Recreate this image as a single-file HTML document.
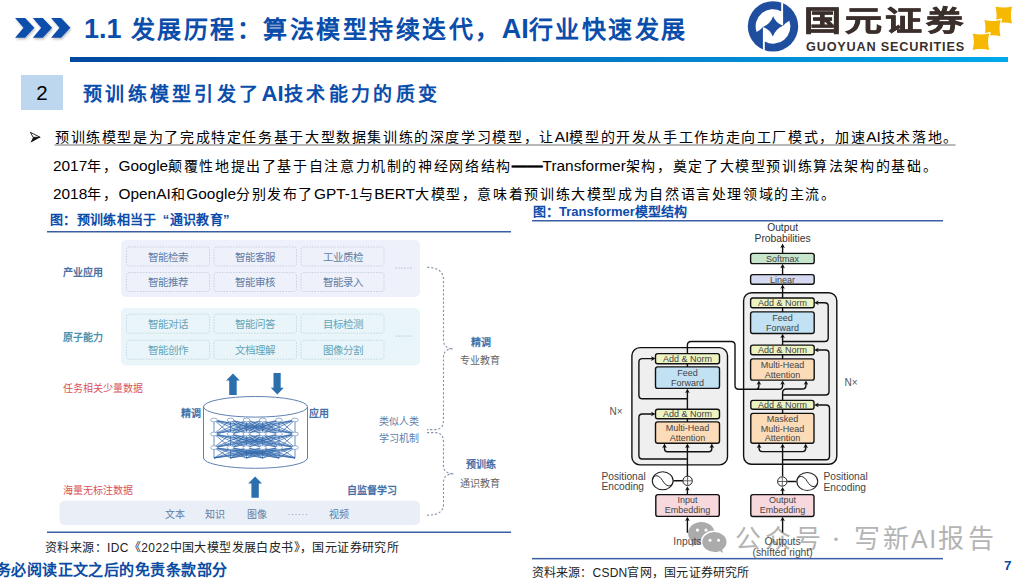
<!DOCTYPE html>
<html lang="zh-CN">
<head>
<meta charset="utf-8">
<style>
html,body{margin:0;padding:0;}
body{width:1026px;height:580px;position:relative;overflow:hidden;background:#fff;font-family:"Liberation Sans",sans-serif;color:#000;}
.a{position:absolute;white-space:nowrap;}
svg{position:absolute;left:0;top:0;}
.title{left:84px;top:12.5px;font-size:24px;line-height:32px;font-weight:bold;color:#0b4dab;letter-spacing:2.5px;}
.title .n{font-size:27px;letter-spacing:0;}
.sec{left:83px;top:81px;font-size:19px;line-height:26px;font-weight:bold;color:#0b4dab;letter-spacing:3.3px;}
.sec .l{font-size:22px;letter-spacing:0.3px;}
.body{font-size:14px;line-height:20px;color:#000;letter-spacing:1.62px;}
.body .l{font-size:15.4px;letter-spacing:0;}
.cap{font-size:13px;line-height:16px;font-weight:bold;color:#0b4cab;}
.wm{top:522px;font-size:26px;line-height:34px;color:#b4b4b4;}
.src{font-size:12px;line-height:16px;color:#222;letter-spacing:0.3px;}
</style>
</head>
<body>
<!-- header graphics -->
<svg width="1026" height="580" viewBox="0 0 1026 580">
  <defs>
    <linearGradient id="hg" x1="0" x2="1" y1="0" y2="0">
      <stop offset="0" stop-color="#0048a0"/>
      <stop offset="0.35" stop-color="#0062b4"/>
      <stop offset="1" stop-color="#00aaea"/>
    </linearGradient>
    <filter id="sh" x="-20%" y="-20%" width="140%" height="160%"><feDropShadow dx="0.8" dy="1.5" stdDeviation="1.1" flood-color="#000" flood-opacity="0.28"/></filter>
  </defs>
  <!-- chevrons -->
  <g fill="#0b4dab" filter="url(#sh)">
    <polygon points="15.1,18.1 25.1,18.1 34.4,27.8 25.1,37.7 15.1,37.7 23.5,27.8"/>
    <polygon points="32.8,18.1 42.8,18.1 52.1,27.8 42.8,37.7 32.8,37.7 41.2,27.8"/>
    <polygon points="51.1,18.1 61.1,18.1 70.4,27.8 61.1,37.7 51.1,37.7 59.5,27.8"/>
  </g>
  <rect x="70" y="57" width="938" height="5" fill="url(#hg)"/>
  <!-- logo -->
  <g transform="translate(773,26.4)">
    <circle r="25.2" fill="#1f4e9f"/>
    <path fill="#fff" d="M8.2,-27 L10.1,-27 L10.1,-0.7 Q2.8,-3.2 0.2,-10.2 Q-2.7,-2.5 -10.1,0.6 Q-12.5,3.6 -16.4,5.6 A17.2,17.2 0 0 1 8.2,-15.1 Z"/>
    <path fill="#fff" d="M8.2,-27 L10.1,-27 L10.1,-0.7 Q2.8,-3.2 0.2,-10.2 Q-2.7,-2.5 -10.1,0.6 Q-12.5,3.6 -16.4,5.6 A17.2,17.2 0 0 1 8.2,-15.1 Z" transform="rotate(180)"/>
  </g>
  <!-- gold diamonds -->
  <g fill="#f6b800" stroke="#fff" stroke-width="1.2">
    <path d="M994.7,5.7 Q1003.8,8.3 1012.8,5.7 Q1010.2,15.0 1012.8,24.3 Q1003.8,21.7 994.7,24.3 Q997.3,15.0 994.7,5.7Z"/>
    <path d="M983.6,19.1 Q992.5,21.7 1001.4,19.1 Q998.8,28.2 1001.4,37.2 Q992.5,34.6 983.6,37.2 Q986.2,28.2 983.6,19.1Z"/>
    <path d="M971.9,32.6 Q981.0,35.2 990,32.6 Q987.4,41.8 990,50.9 Q981.0,48.3 971.9,50.9 Q974.5,41.8 971.9,32.6Z"/>
  </g>
  <!-- section box -->
  <rect x="21" y="75" width="42" height="35" fill="#bdd7ee"/>
  <!-- bullet -->
  <polygon points="30.4,132.3 40.2,137.3 33.1,137.3" fill="#fff" stroke="#111" stroke-width="0.9" stroke-linejoin="miter"/>
  <polygon points="33.1,137.3 40.4,137.3 30.5,142.7" fill="#111"/>
  <!-- bullet underline -->
  <rect x="54.5" y="144.3" width="901" height="1.4" fill="#9a9a9a"/>
  <!-- caption lines -->
  <rect x="47" y="231" width="464" height="1.5" fill="#3a5ea6"/>
  <rect x="47" y="531.5" width="464" height="1.5" fill="#3a5ea6"/>
  <rect x="532" y="220" width="411" height="1.5" fill="#3a5ea6"/>
  <rect x="532" y="557.9" width="411" height="1.5" fill="#3a5ea6"/>
</svg>

<!-- LEFT DIAGRAM -->
<svg width="1026" height="580" viewBox="0 0 1026 580" style="font-family:'Liberation Sans',sans-serif">
  <rect x="121" y="240" width="299" height="57" rx="5" fill="#eef1f9"/>
  <rect x="121" y="308" width="299" height="57.5" rx="5" fill="#e9f5f8"/>
  <rect x="59.5" y="500.7" width="360.5" height="24.3" rx="5" fill="#e9eef7"/>
  <g fill="none" stroke="#bfc8d8" stroke-width="0.8" stroke-dasharray="1.5 1.3">
    <rect x="126.5" y="247" width="83" height="19" rx="2.5"/>
    <rect x="214" y="247" width="82.5" height="19" rx="2.5"/>
    <rect x="301" y="247" width="83" height="19" rx="2.5"/>
    <rect x="126.5" y="272.5" width="83" height="19" rx="2.5"/>
    <rect x="214" y="272.5" width="82.5" height="19" rx="2.5"/>
    <rect x="301" y="272.5" width="83" height="19" rx="2.5"/>
  </g>
  <g fill="none" stroke="#bad3dc" stroke-width="0.8" stroke-dasharray="1.5 1.3">
    <rect x="126.5" y="314.2" width="83" height="19" rx="2.5"/>
    <rect x="214" y="314.2" width="82.5" height="19" rx="2.5"/>
    <rect x="301" y="314.2" width="83" height="19" rx="2.5"/>
    <rect x="126.5" y="340.2" width="83" height="19" rx="2.5"/>
    <rect x="214" y="340.2" width="82.5" height="19" rx="2.5"/>
    <rect x="301" y="340.2" width="83" height="19" rx="2.5"/>
  </g>
  <g font-size="10.5" text-anchor="middle" fill="#5f7ca6">
    <text x="168" y="260.5">智能检索</text><text x="255.2" y="260.5">智能客服</text><text x="342.5" y="260.5">工业质检</text>
    <text x="168" y="286">智能推荐</text><text x="255.2" y="286">智能审核</text><text x="342.5" y="286">智能录入</text>
  </g>
  <g font-size="10.5" text-anchor="middle" fill="#63a4b9">
    <text x="168" y="327.7">智能对话</text><text x="255.2" y="327.7">智能问答</text><text x="342.5" y="327.7">目标检测</text>
    <text x="168" y="353.7">智能创作</text><text x="255.2" y="353.7">文档理解</text><text x="342.5" y="353.7">图像分割</text>
  </g>
  <g fill="#8aa0c0"><circle cx="396" cy="268" r="0.6"/><circle cx="399" cy="268" r="0.6"/><circle cx="402" cy="268" r="0.6"/><circle cx="405" cy="268" r="0.6"/><circle cx="408" cy="268" r="0.6"/><circle cx="411" cy="268" r="0.6"/></g>
  <g fill="#7fb0c0"><circle cx="396" cy="336" r="0.6"/><circle cx="399" cy="336" r="0.6"/><circle cx="402" cy="336" r="0.6"/><circle cx="405" cy="336" r="0.6"/><circle cx="408" cy="336" r="0.6"/><circle cx="411" cy="336" r="0.6"/></g>
  <g fill="#8aa0c0"><circle cx="289" cy="514.5" r="0.6"/><circle cx="292.5" cy="514.5" r="0.6"/><circle cx="296" cy="514.5" r="0.6"/><circle cx="299.5" cy="514.5" r="0.6"/><circle cx="303" cy="514.5" r="0.6"/><circle cx="306.5" cy="514.5" r="0.6"/></g>
  <!-- labels -->
  <g font-size="10" font-weight="bold">
    <text x="62.5" y="275.5" fill="#4d71a0">产业应用</text>
    <text x="62.5" y="340.5" fill="#4a93ab">原子能力</text>
    <text x="181" y="417.3" fill="#4571a8">精调</text>
    <text x="308.5" y="417.3" fill="#4571a8">应用</text>
    <text x="346.5" y="493.8" fill="#4571a8">自监督学习</text>
    <text x="470.5" y="345.5" fill="#4571a8">精调</text>
    <text x="466" y="468" fill="#4571a8">预训练</text>
  </g>
  <g font-size="10" fill="#d9535a">
    <text x="62.5" y="392">任务相关少量数据</text>
    <text x="62.5" y="493.5">海量无标注数据</text>
  </g>
  <g font-size="10" fill="#5f7ca6">
    <text x="164.5" y="518">文本</text><text x="205" y="518">知识</text><text x="246.5" y="518">图像</text><text x="329" y="518">视频</text>
    <text x="378.5" y="425">类似人类</text><text x="378.5" y="442">学习机制</text>
  </g>
  <g font-size="10" fill="#666">
    <text x="460" y="363.5">专业教育</text>
    <text x="459.5" y="487">通识教育</text>
  </g>
  <!-- arrows -->
  <g fill="#2c6fad">
    <polygon points="233,373.5 239.8,380.6 236.7,380.6 236.7,394.9 229.2,394.9 229.2,380.6 226.1,380.6"/>
    <polygon points="273.5,373.1 280.7,373.1 280.7,387.8 283.8,387.8 277.3,394.6 270.8,387.8 273.5,387.8"/>
    <polygon points="255.1,476.4 262,483.5 258.8,483.5 258.8,497.8 251.4,497.8 251.4,483.5 248.2,483.5"/>
  </g>
  <!-- cylinder -->
  <g fill="none" stroke="#5f82b2" stroke-width="1">
    <ellipse cx="255.5" cy="406.8" rx="52" ry="10.3"/>
    <path d="M203.5,406.8 L203.5,458 A52,10.3 0 0 0 307.5,458 L307.5,406.8"/>
  </g>
  <path d="M214,420L214,434M214,420L230.5,434M214,420L246.6,434M214,420L262.7,434M214,420L279,434M214,420L295,434M230.5,420L214,434M230.5,420L230.5,434M230.5,420L246.6,434M230.5,420L262.7,434M230.5,420L279,434M230.5,420L295,434M246.6,420L214,434M246.6,420L230.5,434M246.6,420L246.6,434M246.6,420L262.7,434M246.6,420L279,434M246.6,420L295,434M262.7,420L214,434M262.7,420L230.5,434M262.7,420L246.6,434M262.7,420L262.7,434M262.7,420L279,434M262.7,420L295,434M279,420L214,434M279,420L230.5,434M279,420L246.6,434M279,420L262.7,434M279,420L279,434M279,420L295,434M295,420L214,434M295,420L230.5,434M295,420L246.6,434M295,420L262.7,434M295,420L279,434M295,420L295,434M214,434L214,447.6M214,434L230.5,447.6M214,434L246.6,447.6M214,434L262.7,447.6M214,434L279,447.6M214,434L295,447.6M230.5,434L214,447.6M230.5,434L230.5,447.6M230.5,434L246.6,447.6M230.5,434L262.7,447.6M230.5,434L279,447.6M230.5,434L295,447.6M246.6,434L214,447.6M246.6,434L230.5,447.6M246.6,434L246.6,447.6M246.6,434L262.7,447.6M246.6,434L279,447.6M246.6,434L295,447.6M262.7,434L214,447.6M262.7,434L230.5,447.6M262.7,434L246.6,447.6M262.7,434L262.7,447.6M262.7,434L279,447.6M262.7,434L295,447.6M279,434L214,447.6M279,434L230.5,447.6M279,434L246.6,447.6M279,434L262.7,447.6M279,434L279,447.6M279,434L295,447.6M295,434L214,447.6M295,434L230.5,447.6M295,434L246.6,447.6M295,434L262.7,447.6M295,434L279,447.6M295,434L295,447.6M214,447.6L214,458M214,447.6L230.5,458M214,447.6L246.6,458M214,447.6L262.7,458M214,447.6L279,458M214,447.6L295,458M230.5,447.6L214,458M230.5,447.6L230.5,458M230.5,447.6L246.6,458M230.5,447.6L262.7,458M230.5,447.6L279,458M230.5,447.6L295,458M246.6,447.6L214,458M246.6,447.6L230.5,458M246.6,447.6L246.6,458M246.6,447.6L262.7,458M246.6,447.6L279,458M246.6,447.6L295,458M262.7,447.6L214,458M262.7,447.6L230.5,458M262.7,447.6L246.6,458M262.7,447.6L262.7,458M262.7,447.6L279,458M262.7,447.6L295,458M279,447.6L214,458M279,447.6L230.5,458M279,447.6L246.6,458M279,447.6L262.7,458M279,447.6L279,458M279,447.6L295,458M295,447.6L214,458M295,447.6L230.5,458M295,447.6L246.6,458M295,447.6L262.7,458M295,447.6L279,458M295,447.6L295,458" stroke="#2d66ab" stroke-width="0.75" stroke-opacity="0.95" fill="none"/>
  <g fill="#fff" stroke="#6a8fbf" stroke-width="0.7"><ellipse cx="214" cy="420" rx="3.4" ry="1.9"/><ellipse cx="230.5" cy="420" rx="3.4" ry="1.9"/><ellipse cx="246.6" cy="420" rx="3.4" ry="1.9"/><ellipse cx="262.7" cy="420" rx="3.4" ry="1.9"/><ellipse cx="279" cy="420" rx="3.4" ry="1.9"/><ellipse cx="295" cy="420" rx="3.4" ry="1.9"/><ellipse cx="214" cy="434" rx="3.4" ry="1.9"/><ellipse cx="230.5" cy="434" rx="3.4" ry="1.9"/><ellipse cx="246.6" cy="434" rx="3.4" ry="1.9"/><ellipse cx="262.7" cy="434" rx="3.4" ry="1.9"/><ellipse cx="279" cy="434" rx="3.4" ry="1.9"/><ellipse cx="295" cy="434" rx="3.4" ry="1.9"/><ellipse cx="214" cy="447.6" rx="3.4" ry="1.9"/><ellipse cx="230.5" cy="447.6" rx="3.4" ry="1.9"/><ellipse cx="246.6" cy="447.6" rx="3.4" ry="1.9"/><ellipse cx="262.7" cy="447.6" rx="3.4" ry="1.9"/><ellipse cx="279" cy="447.6" rx="3.4" ry="1.9"/><ellipse cx="295" cy="447.6" rx="3.4" ry="1.9"/></g>
  <!-- braces -->
  <g fill="none" stroke="#8692a8" stroke-width="1.1" stroke-dasharray="2.2 1.9">
    <path d="M427,267.3 Q443.5,267.5 443.5,280 L443.5,340 Q443.5,348.5 453,348.7 Q443.5,349 443.5,357 L443.5,420 Q443.5,429.6 435,429.6 L427,429.6"/>
    <path d="M427,432.6 L435,432.6 Q443.5,432.6 443.5,442 L443.5,466 Q443.5,473.5 454,473.8 Q443.5,474 443.5,482 L443.5,504 Q443.5,515.2 427,515.2"/>
  </g>
</svg>

<!-- WATERMARK -->
<svg width="1026" height="580" viewBox="0 0 1026 580">
  <path d="M701.4,522 C709,522 714.7,527 714.7,533.3 C714.7,539.6 709,544.6 701.4,544.6 C699.5,544.6 697.8,544.3 696.2,543.8 L691.5,547.3 L692.6,542.2 C689.8,540 688.1,536.8 688.1,533.3 C688.1,527 693.8,522 701.4,522Z" fill="#ababab"/>
  <path d="M714.4,531.2 C721.5,531.2 727.3,536 727.3,542 C727.3,545.2 725.7,548 723.1,550 L724.4,554.8 L719.8,552 C718.1,552.6 716.3,552.9 714.4,552.9 C707.3,552.9 701.5,548 701.5,542 C701.5,536 707.3,531.2 714.4,531.2Z" fill="#ababab" stroke="#fff" stroke-width="1.6"/>
  <circle cx="836" cy="539.2" r="1.8" fill="#b4b4b4"/>
  <g fill="#fff"><circle cx="697.5" cy="530.1" r="1.6"/><circle cx="706" cy="530.1" r="1.6"/><circle cx="710" cy="540.3" r="1.5"/><circle cx="718.5" cy="540.3" r="1.5"/></g>
</svg>
<div class="a wm" style="left:734.5px;letter-spacing:4px;">公众号</div>
<div class="a wm" style="left:854px;letter-spacing:2.5px;">写新</div>
<div class="a wm" style="left:911px;font-size:25px;letter-spacing:1.5px;">AI</div>
<div class="a wm" style="left:938px;letter-spacing:4px;">报告</div>

<!-- TRANSFORMER -->
<svg width="1026" height="580" viewBox="0 0 1026 580" style="font-family:'Liberation Sans',sans-serif">
<rect x="631.9" y="347.6" width="95.6" height="117.3" rx="8" fill="#efefef" stroke="#111" stroke-width="1.4"/>
<rect x="743.6" y="292.7" width="93.2" height="171.6" rx="8" fill="#efefef" stroke="#111" stroke-width="1.4"/>
<rect x="655.5" y="353.6" width="64.0" height="10.1" rx="2.2" fill="#eef3c2" stroke="#111" stroke-width="1.4"/>
<rect x="655.5" y="366.9" width="64.0" height="21.5" rx="2.2" fill="#c2e2f3" stroke="#111" stroke-width="1.4"/>
<rect x="655.5" y="409.3" width="64.0" height="9.4" rx="2.2" fill="#eef3c2" stroke="#111" stroke-width="1.4"/>
<rect x="655.5" y="421.9" width="64.0" height="21.3" rx="2.2" fill="#fbdbb8" stroke="#111" stroke-width="1.4"/>
<rect x="655.8" y="494.6" width="63.5" height="21.8" rx="2.2" fill="#f7d8dd" stroke="#111" stroke-width="1.4"/>
<rect x="750.6" y="253.4" width="63.6" height="10.2" rx="2.2" fill="#c6e5cb" stroke="#111" stroke-width="1.4"/>
<rect x="750.6" y="274.6" width="63.6" height="9.6" rx="2.2" fill="#d6daf0" stroke="#111" stroke-width="1.4"/>
<rect x="750.6" y="298.0" width="63.6" height="9.7" rx="2.2" fill="#eef3c2" stroke="#111" stroke-width="1.4"/>
<rect x="750.6" y="311.9" width="63.6" height="21.6" rx="2.2" fill="#c2e2f3" stroke="#111" stroke-width="1.4"/>
<rect x="750.6" y="345.1" width="63.6" height="9.6" rx="2.2" fill="#eef3c2" stroke="#111" stroke-width="1.4"/>
<rect x="750.6" y="358.9" width="63.6" height="21.2" rx="2.2" fill="#fbdbb8" stroke="#111" stroke-width="1.4"/>
<rect x="750.8" y="400.4" width="63.2" height="8.9" rx="2.2" fill="#eef3c2" stroke="#111" stroke-width="1.4"/>
<rect x="750.8" y="413.4" width="63.2" height="29.9" rx="2.2" fill="#fbdbb8" stroke="#111" stroke-width="1.4"/>
<rect x="750.8" y="494.6" width="63.2" height="21.9" rx="2.2" fill="#f7d8dd" stroke="#111" stroke-width="1.4"/>
<path d="M687.4,494.6 L687.4,489 M687.4,476.2 L687.4,446.5 M664.5,446.5 L664.5,448.8 Q664.5,451.8 667.5,451.8 L708.8,451.8 Q711.8,451.8 711.8,448.8 L711.8,446.5 M687.4,459 L642.4,459 Q638.9,459 638.9,455.5 L638.9,417.5 Q638.9,414 642.4,414 L652.5,414 M687.4,421.9 L687.4,418.7 M687.4,409.3 L687.4,391.5 M687.4,398.8 L642.4,398.8 Q638.9,398.8 638.9,395.3 L638.9,362.1 Q638.9,358.6 642.4,358.6 L652.5,358.6 M687.4,366.9 L687.4,363.7 M687.4,353.6 L687.4,345.3 Q687.4,341.5 691.2,341.5 L731.2,341.5 Q735,341.5 735,345.3 L735,385.6 Q735,389.3 738.8,389.3 L755.4,389.3 Q758.9,389.3 758.9,385.8 L758.9,383.4 M755,389.3 L779,389.3 Q782.6,389.3 782.6,385.8 L782.6,383.4 M782.6,494.6 L782.6,489 M782.6,476.2 L782.6,446.6 M759.1,446.6 L759.1,448.6 Q759.1,451.6 762.1,451.6 L802.7,451.6 Q805.7,451.6 805.7,448.6 L805.7,446.6 M782.6,459.7 L826,459.7 Q829.5,459.7 829.5,456.2 L829.5,408.5 Q829.5,405 826,405 L817.2,405 M782.6,413.4 L782.6,409.3 M782.6,400.4 L782.6,392.8 Q782.6,389 786.4,389 L802.2,389 Q806,389 806,385.2 L806,383.4 M782.6,395 L825.5,395 Q829,395 829,391.5 L829,353.5 Q829,350 825.5,350 L817.4,350 M782.6,358.9 L782.6,354.7 M782.6,345.1 L782.6,336.6 M782.6,341.5 L824.7,341.5 Q828.2,341.5 828.2,338 L828.2,306.3 Q828.2,302.8 824.7,302.8 L817.4,302.8 M782.6,311.9 L782.6,307.7 M782.6,298 L782.6,287.3 M782.6,274.6 L782.6,266.7 M782.6,253.4 L782.6,247 M782.6,532.5 L782.6,519.6 M687.4,532.8 L687.4,519.6 M673.3,480.8 L682.9,480.8 M787.3,481.5 L796.5,481.5" fill="none" stroke="#111" stroke-width="1.4"/>
<path d="M0,0 L2.3,4.4 L0,3.4 L-2.3,4.4Z" fill="#111" transform="translate(687.4,486.2) rotate(0)"/>
<path d="M0,0 L2.3,4.4 L0,3.4 L-2.3,4.4Z" fill="#111" transform="translate(687.4,443.6) rotate(0)"/>
<path d="M0,0 L2.3,4.4 L0,3.4 L-2.3,4.4Z" fill="#111" transform="translate(664.5,443.6) rotate(0)"/>
<path d="M0,0 L2.3,4.4 L0,3.4 L-2.3,4.4Z" fill="#111" transform="translate(711.8,443.6) rotate(0)"/>
<path d="M0,0 L2.3,4.4 L0,3.4 L-2.3,4.4Z" fill="#111" transform="translate(655.5,414) rotate(90)"/>
<path d="M0,0 L2.3,4.4 L0,3.4 L-2.3,4.4Z" fill="#111" transform="translate(687.4,388.7) rotate(0)"/>
<path d="M0,0 L2.3,4.4 L0,3.4 L-2.3,4.4Z" fill="#111" transform="translate(655.5,358.6) rotate(90)"/>
<path d="M0,0 L2.3,4.4 L0,3.4 L-2.3,4.4Z" fill="#111" transform="translate(758.9,380.4) rotate(0)"/>
<path d="M0,0 L2.3,4.4 L0,3.4 L-2.3,4.4Z" fill="#111" transform="translate(782.6,380.4) rotate(0)"/>
<path d="M0,0 L2.3,4.4 L0,3.4 L-2.3,4.4Z" fill="#111" transform="translate(782.6,486.9) rotate(0)"/>
<path d="M0,0 L2.3,4.4 L0,3.4 L-2.3,4.4Z" fill="#111" transform="translate(782.6,443.6) rotate(0)"/>
<path d="M0,0 L2.3,4.4 L0,3.4 L-2.3,4.4Z" fill="#111" transform="translate(759.1,443.6) rotate(0)"/>
<path d="M0,0 L2.3,4.4 L0,3.4 L-2.3,4.4Z" fill="#111" transform="translate(805.7,443.6) rotate(0)"/>
<path d="M0,0 L2.3,4.4 L0,3.4 L-2.3,4.4Z" fill="#111" transform="translate(814.2,405) rotate(-90)"/>
<path d="M0,0 L2.3,4.4 L0,3.4 L-2.3,4.4Z" fill="#111" transform="translate(806,380.4) rotate(0)"/>
<path d="M0,0 L2.3,4.4 L0,3.4 L-2.3,4.4Z" fill="#111" transform="translate(814.2,350) rotate(-90)"/>
<path d="M0,0 L2.3,4.4 L0,3.4 L-2.3,4.4Z" fill="#111" transform="translate(782.6,333.7) rotate(0)"/>
<path d="M0,0 L2.3,4.4 L0,3.4 L-2.3,4.4Z" fill="#111" transform="translate(814.2,302.8) rotate(-90)"/>
<path d="M0,0 L2.3,4.4 L0,3.4 L-2.3,4.4Z" fill="#111" transform="translate(782.6,284.4) rotate(0)"/>
<path d="M0,0 L2.3,4.4 L0,3.4 L-2.3,4.4Z" fill="#111" transform="translate(782.6,263.8) rotate(0)"/>
<path d="M0,0 L2.3,4.4 L0,3.4 L-2.3,4.4Z" fill="#111" transform="translate(782.6,243.6) rotate(0)"/>
<path d="M0,0 L2.3,4.4 L0,3.4 L-2.3,4.4Z" fill="#111" transform="translate(782.6,516.7) rotate(0)"/>
<path d="M0,0 L2.3,4.4 L0,3.4 L-2.3,4.4Z" fill="#111" transform="translate(687.4,516.7) rotate(0)"/>
<circle cx="687.6" cy="480.8" r="4.7" fill="#fff" stroke="#222" stroke-width="1"/>
<path d="M682.9,480.8 L692.3000000000001,480.8 M687.6,476.1 L687.6,485.5" stroke="#555" stroke-width="0.9"/>
<circle cx="782.3" cy="481.5" r="4.7" fill="#fff" stroke="#222" stroke-width="1"/>
<path d="M777.5999999999999,481.5 L787.0,481.5 M782.3,476.8 L782.3,486.2" stroke="#555" stroke-width="0.9"/>
<ellipse cx="662.7" cy="480.8" rx="10.4" ry="9" fill="#fff" stroke="#222" stroke-width="1.1"/>
<path d="M652.5,479.0 C654.5,474.40000000000003 658.9000000000001,474.40000000000003 662.7,480.8 C666.5,487.2 670.9000000000001,487.2 672.9000000000001,482.6" fill="none" stroke="#222" stroke-width="1"/>
<ellipse cx="807.3" cy="481.5" rx="10.4" ry="9" fill="#fff" stroke="#222" stroke-width="1.1"/>
<path d="M797.0999999999999,479.7 C799.0999999999999,475.1 803.5,475.1 807.3,481.5 C811.0999999999999,487.9 815.5,487.9 817.5,483.3" fill="none" stroke="#222" stroke-width="1"/>
<text x="687.4" y="362" font-size="9" fill="#444" text-anchor="middle">Add &amp; Norm</text>
<text x="687.4" y="375.5" font-size="9" fill="#444" text-anchor="middle">Feed</text>
<text x="687.4" y="385.5" font-size="9" fill="#444" text-anchor="middle">Forward</text>
<text x="687.4" y="417.2" font-size="9" fill="#444" text-anchor="middle">Add &amp; Norm</text>
<text x="687.4" y="430.8" font-size="9" fill="#444" text-anchor="middle">Multi-Head</text>
<text x="687.4" y="440.7" font-size="9" fill="#444" text-anchor="middle">Attention</text>
<text x="687.4" y="503.4" font-size="9" fill="#444" text-anchor="middle">Input</text>
<text x="687.4" y="513.4" font-size="9" fill="#444" text-anchor="middle">Embedding</text>
<text x="782.6" y="262.1" font-size="9" fill="#444" text-anchor="middle">Softmax</text>
<text x="782.6" y="282.8" font-size="9" fill="#444" text-anchor="middle">Linear</text>
<text x="782.6" y="306.2" font-size="9" fill="#444" text-anchor="middle">Add &amp; Norm</text>
<text x="782.6" y="320.6" font-size="9" fill="#444" text-anchor="middle">Feed</text>
<text x="782.6" y="330.6" font-size="9" fill="#444" text-anchor="middle">Forward</text>
<text x="782.6" y="353.2" font-size="9" fill="#444" text-anchor="middle">Add &amp; Norm</text>
<text x="782.6" y="367.6" font-size="9" fill="#444" text-anchor="middle">Multi-Head</text>
<text x="782.6" y="377.6" font-size="9" fill="#444" text-anchor="middle">Attention</text>
<text x="782.6" y="407.8" font-size="9" fill="#444" text-anchor="middle">Add &amp; Norm</text>
<text x="782.6" y="422.4" font-size="9" fill="#444" text-anchor="middle">Masked</text>
<text x="782.6" y="431.8" font-size="9" fill="#444" text-anchor="middle">Multi-Head</text>
<text x="782.6" y="441.2" font-size="9" fill="#444" text-anchor="middle">Attention</text>
<text x="782.6" y="503.4" font-size="9" fill="#444" text-anchor="middle">Output</text>
<text x="782.6" y="513.4" font-size="9" fill="#444" text-anchor="middle">Embedding</text>
<text x="782.6" y="231" font-size="10.3" fill="#333" text-anchor="middle">Output</text>
<text x="782.6" y="241.5" font-size="10.3" fill="#333" text-anchor="middle">Probabilities</text>
<text x="601.5" y="479.5" font-size="10.2" fill="#444" text-anchor="start">Positional</text>
<text x="601.5" y="490" font-size="10.2" fill="#444" text-anchor="start">Encoding</text>
<text x="823.5" y="480" font-size="10.2" fill="#444" text-anchor="start">Positional</text>
<text x="823.5" y="490.5" font-size="10.2" fill="#444" text-anchor="start">Encoding</text>
<text x="687.4" y="544.5" font-size="10.3" fill="#4a4a4a" text-anchor="middle">Inputs</text>
<text x="782.6" y="544.5" font-size="10.3" fill="#4a4a4a" text-anchor="middle">Outputs</text>
<text x="782.6" y="555.5" font-size="10.3" fill="#4a4a4a" text-anchor="middle">(shifted right)</text>
<text x="609.5" y="414.5" font-size="10" fill="#555" text-anchor="start">N×</text>
<text x="844.5" y="386" font-size="10" fill="#555" text-anchor="start">N×</text>
</svg>
<div class="a title"><span class="n">1.1</span> 发展历程：算法模型持续迭代，<span class="n">AI</span>行业快速发展</div>
<div class="a" id="lg1" style="left:804px;top:8.2px;font-size:37px;line-height:36px;font-weight:bold;-webkit-text-stroke:0.9px #3b2f2b;color:#3b2f2b;letter-spacing:3.6px;transform:scaleY(0.77);transform-origin:0 0;">国元证券</div>
<div class="a" id="lg2" style="left:806px;top:39.3px;font-size:12.7px;line-height:16px;font-weight:bold;color:#3b2f2b;letter-spacing:0.8px;">GUOYUAN SECURITIES</div>

<div class="a" id="two" style="left:21px;top:83.3px;width:42px;text-align:center;font-size:20.5px;line-height:20px;">2</div>
<div class="a sec">预训练模型引发了<span class="l">AI</span>技术能力的质变</div>


<div class="a body" style="left:55px;top:127.3px;">预训练模型是为了完成特定任务基于大型数据集训练的深度学习模型，让<span class="l">AI</span>模型的开发从手工作坊走向工厂模式，加速<span class="l">AI</span>技术落地。</div>
<div class="a body" style="left:53px;top:156px;"><span class="l">2017</span>年，<span class="l">Google</span>颠覆性地提出了基于自注意力机制的神经网络结构<span class="l"><b style="-webkit-text-stroke:0.5px #000">——</b>Transformer</span>架构，奠定了大模型预训练算法架构的基础。</div>
<div class="a body" style="left:53px;top:184px;"><span class="l">2018</span>年，<span class="l">OpenAI</span>和<span class="l">Google</span>分别发布了<span class="l">GPT-1</span>与<span class="l">BERT</span>大模型，意味着预训练大模型成为自然语言处理领域的主流。</div>

<div class="a cap" id="cap1" style="left:50px;top:212.2px;letter-spacing:0.33px;">图：预训练相当于<span style="display:inline-block;width:13px;text-align:right">“</span>通识教育<span style="display:inline-block;width:13px;text-align:left">”</span></div>
<div class="a cap" style="left:533px;top:204px;">图：Transformer模型结构</div>

<div class="a src" id="src1" style="left:45px;top:540px;letter-spacing:0.4px;">资料来源：IDC《2022中国大模型发展白皮书》，国元证券研究所</div>
<div class="a src" id="src2" style="left:531.5px;top:565px;letter-spacing:0.22px;">资料来源：CSDN官网，国元证券研究所</div>
<div class="a" id="disc" style="left:-4.3px;top:560.5px;font-size:15px;line-height:18px;font-weight:bold;color:#0a4ca3;letter-spacing:0.45px;">务必阅读正文之后的免责条款部分</div>
<div class="a" style="left:1004px;top:557.6px;font-size:13.5px;line-height:16px;font-weight:bold;color:#0a4ca3;">7</div>

</body>
</html>
